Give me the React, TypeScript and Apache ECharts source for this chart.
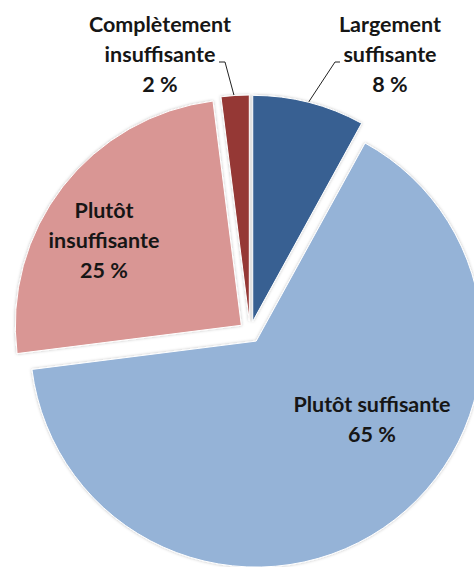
import React, { useEffect, useRef } from "react";
import * as echarts from "echarts";

const categories = [
  "Largement\nsuffisante",
  "Plutôt suffisante",
  "Plutôt\ninsuffisante",
  "Complètement\ninsuffisante",
];
const values = [8, 65, 25, 2];
const colors = ["#376092", "#95B3D7", "#D99694", "#953735"];

// label placement (pixel positions, styling only)
const labelPos: Record<number, { x: number; y: number; line?: number[][] }> = {
  0: { x: 390, y: 54, line: [[308, 103], [335, 62], [340, 62]] },
  1: { x: 372, y: 419 },
  2: { x: 104, y: 240 },
  3: { x: 160, y: 54, line: [[235, 99], [225, 62], [219, 62]] },
};

const CX = 250;
const CY = 332;
const R = 226;
const OFFSET = 11;

export default function App() {
  const ref = useRef<HTMLDivElement>(null);
  useEffect(() => {
    if (!ref.current) return;
    const chart = echarts.init(ref.current, null, { renderer: "svg" });
    const textStyle = {
      fontFamily: "Lato",
      fontWeight: "bold" as const,
      fontSize: 21.5,
      lineHeight: 30,
      color: "#161616",
      align: "center" as const,
    };
    const total = values.reduce((a, b) => a + b, 0);
    let cum = 0;
    const series = values.map((v, i) => {
      const mid = ((cum + v / 2) / total) * Math.PI * 2;
      cum += v;
      const cx = CX + OFFSET * Math.sin(mid);
      const cy = CY - OFFSET * Math.cos(mid);
      const pos = labelPos[i];
      return {
        type: "pie",
        center: [cx, cy],
        radius: R,
        startAngle: 90,
        clockwise: true,
        silent: true,
        z: 2,
        itemStyle: {
          borderColor: "#ffffff",
          borderWidth: 1,
        },
        label: {
          show: false,
          position: i === 0 || i === 3 ? "outside" : "inside",
          overflow: "none",
          ...textStyle,
          formatter: (p: any) => `${p.name}\n${p.value} %`,
        },
        labelLine: {
          show: false,
          lineStyle: { color: "#222", width: 1 },
        },
        labelLayout: (params: any) => {
          if (params.dataIndex !== i) return {};
          const out: any = {
            x: pos.x,
            y: pos.y,
            align: "center",
            verticalAlign: "middle",
          };
          if (pos.line) out.labelLinePoints = pos.line;
          return out;
        },
        data: categories.map((name, j) => ({
          name,
          value: values[j],
          itemStyle:
            j === i
              ? {
                  color: colors[j],
                  shadowBlur: 3,
                  shadowColor: "rgba(0,0,0,0.25)",
                }
              : { color: "rgba(0,0,0,0)", borderWidth: 0 },
          label: { show: j === i },
          labelLine: { show: j === i && (i === 0 || i === 3) },
        })),
      };
    });
    chart.setOption({
      animation: false,
      backgroundColor: "#ffffff",
      series,
    });
    return () => chart.dispose();
  }, []);
  return (
    <div
      ref={ref}
      style={{ position: "absolute", left: 0, top: 0, width: 474, height: 567 }}
    />
  );
}
